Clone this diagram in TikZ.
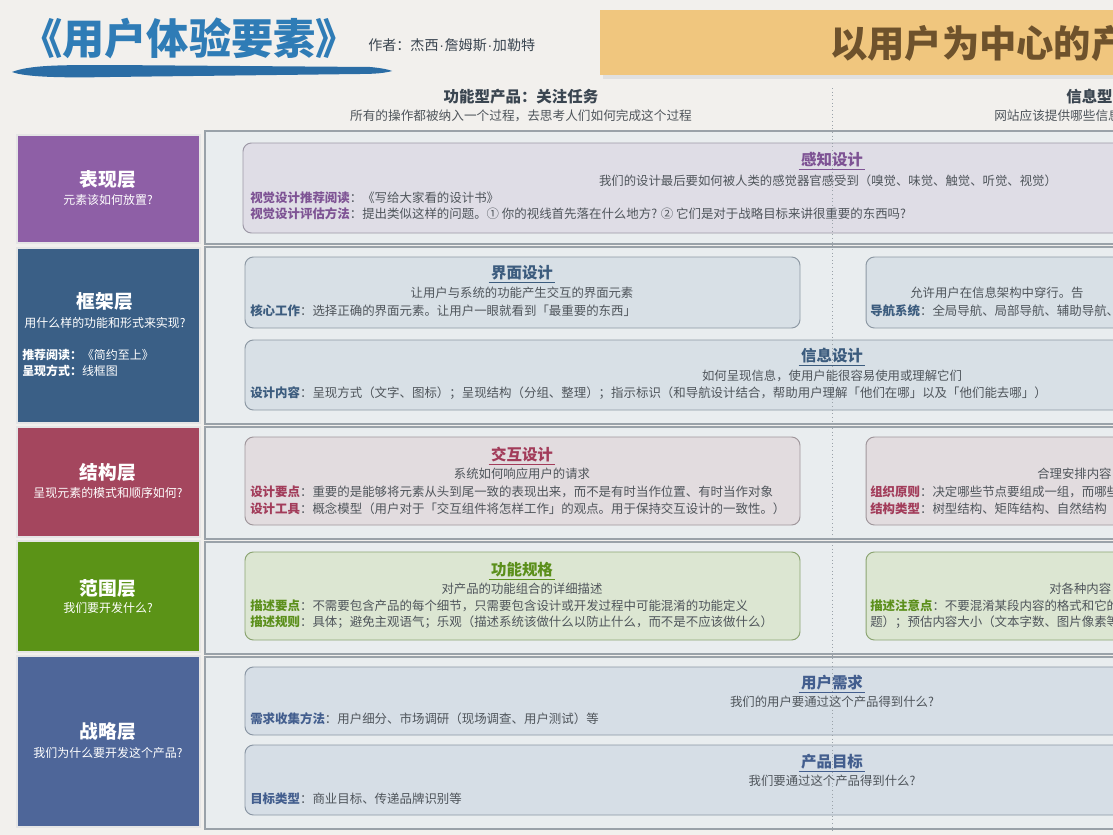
\documentclass[tikz,border=0pt]{standalone}
\usepackage{fontspec}
\setmainfont{Noto Sans CJK SC}
\newfontfamily\latinf{Liberation Sans}
\usepackage{tikz}
\usetikzlibrary{positioning, fit, calc}

\definecolor{pagebg}{HTML}{F2F0ED}
\definecolor{bandbg}{HTML}{E9EDEF}
\definecolor{bandln}{HTML}{9AA2A9}
\definecolor{txtgray}{HTML}{4F555B}
\definecolor{hdgray}{HTML}{3A4550}
\definecolor{titleblue}{HTML}{2F7CB6}
\definecolor{brush}{HTML}{2B6DA5}
\definecolor{banner}{HTML}{F0C67E}
\definecolor{bannertxt}{HTML}{6E522C}
% layer colours: L = left box, F = card fill, D = card border, T = text
\definecolor{prpL}{HTML}{8E5FA6}
\definecolor{prpF}{HTML}{DFDDE6}
\definecolor{prpD}{HTML}{9D98A6}
\definecolor{prpT}{HTML}{7E5394}
\definecolor{sltL}{HTML}{3A5F86}
\definecolor{sltF}{HTML}{D8E0E6}
\definecolor{sltD}{HTML}{8D99A4}
\definecolor{sltT}{HTML}{3C5C7E}
\definecolor{crmL}{HTML}{A4465E}
\definecolor{crmF}{HTML}{E2DCDF}
\definecolor{crmD}{HTML}{A0979C}
\definecolor{crmT}{HTML}{A23C5A}
\definecolor{grnL}{HTML}{5B9317}
\definecolor{grnF}{HTML}{DCE6D2}
\definecolor{grnD}{HTML}{8CA572}
\definecolor{grnT}{HTML}{5B8F1B}
\definecolor{bluL}{HTML}{4E6699}
\definecolor{bluF}{HTML}{D6DEE6}
\definecolor{bluD}{HTML}{8A96A4}
\definecolor{bluT}{HTML}{435E8E}

\newcommand{\keyw}[2]{\textcolor{#1}{\bfseries #2}}
\newcommand{\mdot}{{\latinf\kern0.05em·\kern0.05em}}

\begin{document}
\begin{tikzpicture}[
    x=0.025cm, y=-0.025cm,
    layer/.style={fill=#1L, draw=white!80!gray, line width=0.8pt, inner sep=0pt},
    band/.style={fill=bandbg, draw=bandln, line width=0.8pt, inner sep=0pt},
    card/.style={rounded corners=6pt, fill=#1F, draw=#1D, line width=0.7pt, inner sep=0pt},
    lyrttl/.style={font=\fontsize{13.3}{15}\selectfont\bfseries, text=white, inner sep=0pt},
    lyrsub/.style={font=\fontsize{8.5}{10}\selectfont, text=white, inner sep=0pt},
    ttl/.style={font=\fontsize{11}{13}\selectfont\bfseries, text=#1T, inner sep=1.5pt,
        append after command={(\tikzlastnode.south west) edge[draw=#1T, line width=0.6pt] (\tikzlastnode.south east)}},
    sub/.style={font=\fontsize{8.8}{11}\selectfont, text=txtgray, inner sep=0pt},
    body/.style={font=\fontsize{8.85}{11}\selectfont, text=txtgray, inner sep=0pt, anchor=west},
    mainttl/.style={font=\fontsize{30}{34}\selectfont\bfseries, text=titleblue, inner sep=0pt, anchor=west},
    colhd/.style={font=\fontsize{11}{13}\selectfont\bfseries, text=hdgray, inner sep=0pt},
    colsub/.style={font=\fontsize{9}{11}\selectfont, text=txtgray, inner sep=0pt}
]
    \useasboundingbox (0,0) rectangle (1113,835);
    \clip (0,0) rectangle (1113,835);
    \fill[pagebg] (0,0) rectangle (1113,835);

    %% --- Header ---
    \node[mainttl] (book) at (20,38) {《用户体验要素》};
    \fill[brush] (12,72) .. controls (30,65) and (60,65) .. (110,65) -- (370,67)
        .. controls (382,68) and (390,70) .. (392,71)
        .. controls (385,73) and (375,74) .. (360,74) -- (110,77)
        .. controls (60,78) and (25,77) .. (12,72) -- cycle;
    \node[colsub, anchor=west, font=\fontsize{10}{12}\selectfont, text=hdgray] (auth) at (368,45) {作者：杰西\mdot 詹姆斯\mdot 加勒特};
    \fill[black!12] (603,14) rectangle (1125,79);
    \node[fill=banner, inner sep=0pt, fit={(600,10) (1125,75)}] (bnr) {};
    \node[mainttl, font=\fontsize{26.5}{30}\selectfont\bfseries, text=bannertxt] (bnrt) at (830,44) {以用户为中心的产};
    \node[colhd] (fnhd) at (521,97) {功能型产品：关注任务};
    \node[colsub] (fnsub) at (521,116) {所有的操作都被纳入一个过程，去思考人们如何完成这个过程};
    \node[colhd, anchor=west] (infhd) at (1066,97) {信息型};
    \node[colsub, anchor=west] (infsub) at (994,116) {网站应该提供哪些信息};

    %% --- Bands ---
    \node[band, fit={(205,131) (1125,244)}] (band1) {};
    \node[band, fit={(205,247) (1125,424)}] (band2) {};
    \node[band, fit={(205,427) (1125,539)}] (band3) {};
    \node[band, fit={(205,542) (1125,654)}] (band4) {};
    \node[band, fit={(205,657) (1125,829)}] (band5) {};

    %% --- Left: layers ---
    \node[layer=prp, fit={(17,135) (200,243)}] (lyr1) {};
    \node[lyrttl] (lyr1t) at (108,180) {表现层};
    \node[lyrsub] (lyr1s) at (108,200) {元素该如何放置?};

    \node[layer=slt, fit={(17,248) (200,423)}] (lyr2) {};
    \node[lyrttl] (lyr2t) at (105,301) {框架层};
    \node[lyrsub] (lyr2s) at (105,323) {用什么样的功能和形式来实现?};
    \node[lyrsub, anchor=west] (lyr2a) at (22,355) {\textbf{推荐阅读：}《简约至上》};
    \node[lyrsub, anchor=west] (lyr2b) at (22,371) {\textbf{呈现方式：}线框图};

    \node[layer=crm, fit={(17,427) (200,537)}] (lyr3) {};
    \node[lyrttl] (lyr3t) at (108,472) {结构层};
    \node[lyrsub] (lyr3s) at (108,493) {呈现元素的模式和顺序如何?};

    \node[layer=grn, fit={(17,541) (200,652)}] (lyr4) {};
    \node[lyrttl] (lyr4t) at (108,588) {范围层};
    \node[lyrsub] (lyr4s) at (108,608) {我们要开发什么?};

    \node[layer=blu, fit={(17,656) (200,827)}] (lyr5) {};
    \node[lyrttl] (lyr5t) at (108,731) {战略层};
    \node[lyrsub] (lyr5s) at (108,753) {我们为什么要开发这个产品?};

    %% --- Surface ---
    \node[card=prp, fit={(243,143) (1135,233)}] (prc) {};
    \node[ttl=prp] (prct) at (832,160) {感知设计};
    \node[sub] (prcs) at (828,181) {我们的设计最后要如何被人类的感觉器官感受到（嗅觉、味觉、触觉、听觉、视觉）};
    \node[body] (prc1) at (250,198) {\keyw{prpT}{视觉设计推荐阅读}：《写给大家看的设计书》};
    \node[body] (prc2) at (250,214) {\keyw{prpT}{视觉设计评估方法}：提出类似这样的问题。① 你的视线首先落在什么地方? ② 它们是对于战略目标来讲很重要的东西吗?};

    %% --- Skeleton ---
    \node[card=slt, fit={(245,257) (800,328)}] (ifc) {};
    \node[ttl=slt] (ifct) at (522,273) {界面设计};
    \node[sub] (ifcs) at (522,293) {让用户与系统的功能产生交互的界面元素};
    \node[body] (ifc1) at (250,311) {\keyw{sltT}{核心工作}：选择正确的界面元素。让用户一眼就看到「最重要的东西」};

    \node[card=slt, fit={(866,257) (1135,328)}] (nav) {};
    \node[sub, anchor=west] (navs) at (910,293) {允许用户在信息架构中穿行。告};
    \node[body] (nav1) at (870,311) {\keyw{sltT}{导航系统}：全局导航、局部导航、辅助导航、};

    \node[card=slt, fit={(245,340) (1135,410)}] (inf) {};
    \node[ttl=slt] (inft) at (832,356) {信息设计};
    \node[sub] (infs) at (832,376) {如何呈现信息，使用户能很容易使用或理解它们};
    \node[body] (inf1) at (250,393) {\keyw{sltT}{设计内容}：呈现方式（文字、图标）；呈现结构（分组、整理）；指示标识（和导航设计结合，帮助用户理解「他们在哪」以及「他们能去哪」）};

    %% --- Structure ---
    \node[card=crm, fit={(245,437) (800,525)}] (ixd) {};
    \node[ttl=crm] (ixdt) at (522,455) {交互设计};
    \node[sub] (ixds) at (522,474) {系统如何响应用户的请求};
    \node[body] (ixd1) at (250,492) {\keyw{crmT}{设计要点}：重要的是能够将元素从头到尾一致的表现出来，而不是有时当作位置、有时当作对象};
    \node[body] (ixd2) at (250,509) {\keyw{crmT}{设计工具}：概念模型（用户对于「交互组件将怎样工作」的观点。用于保持交互设计的一致性。）};

    \node[card=crm, fit={(866,437) (1135,525)}] (arc) {};
    \node[sub, anchor=west] (arcs) at (1037,474) {合理安排内容};
    \node[body] (arc1) at (870,492) {\keyw{crmT}{组织原则}：决定哪些节点要组成一组，而哪些};
    \node[body] (arc2) at (870,509) {\keyw{crmT}{结构类型}：树型结构、矩阵结构、自然结构};

    %% --- Scope ---
    \node[card=grn, fit={(245,552) (800,640)}] (spc) {};
    \node[ttl=grn] (spct) at (522,570) {功能规格};
    \node[sub] (spcs) at (522,589) {对产品的功能组合的详细描述};
    \node[body] (spc1) at (250,606) {\keyw{grnT}{描述要点}：不需要包含产品的每个细节，只需要包含设计或开发过程中可能混淆的功能定义};
    \node[body] (spc2) at (250,622) {\keyw{grnT}{描述规则}：具体；避免主观语气；乐观（描述系统该做什么以防止什么，而不是不应该做什么）};

    \node[card=grn, fit={(866,552) (1135,640)}] (cnt) {};
    \node[sub, anchor=west] (cnts) at (1049,589) {对各种内容};
    \node[body] (cnt1) at (870,606) {\keyw{grnT}{描述注意点}：不要混淆某段内容的格式和它的};
    \node[body] (cnt2) at (870,622) {题）；预估内容大小（文本字数、图片像素等};

    %% --- Strategy ---
    \node[card=blu, fit={(245,667) (1135,735)}] (usr) {};
    \node[ttl=blu] (usrt) at (832,683) {用户需求};
    \node[sub] (usrs) at (832,702) {我们的用户要通过这个产品得到什么?};
    \node[body] (usr1) at (250,719) {\keyw{bluT}{需求收集方法}：用户细分、市场调研（现场调查、用户测试）等};

    \node[card=blu, fit={(245,745) (1135,815)}] (obj) {};
    \node[ttl=blu] (objt) at (832,762) {产品目标};
    \node[sub] (objs) at (832,781) {我们要通过这个产品得到什么?};
    \node[body] (obj1) at (250,799) {\keyw{bluT}{目标类型}：商业目标、传递品牌识别等};

    %% --- Divider ---
    \coordinate (divtop) at (832,88);
    \coordinate (divbot) at (832,832);
    \draw[dotted, line width=0.6pt, bandln] (divtop) -- (divbot);
\end{tikzpicture}
\end{document}
